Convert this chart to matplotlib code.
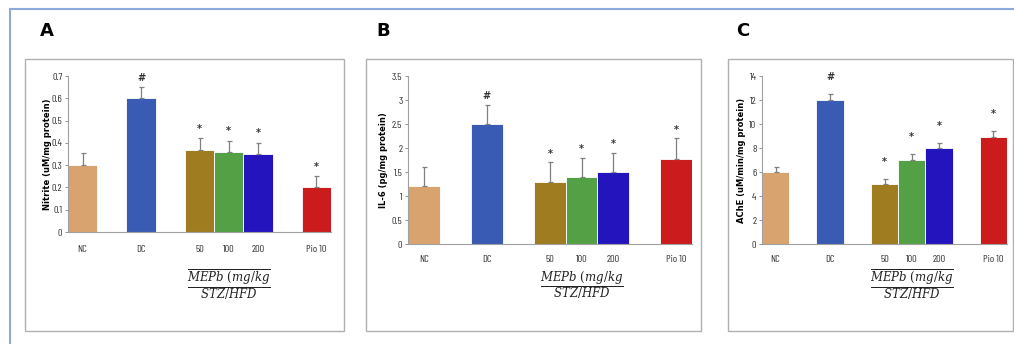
import numpy as np
import matplotlib
matplotlib.use('Agg')
import matplotlib.pyplot as plt
from matplotlib.patches import Rectangle
from matplotlib.lines import Line2D
from matplotlib.transforms import blended_transform_factory

# data
groups = ['NC', 'DC', '50', '100', '200', 'Pio 10']
bar_colors = ['#D9A36F', '#3A5BB4', '#9E7C1F', '#53A045', '#2314BE', '#CB1B1D']

nitrite = [0.30, 0.60, 0.37, 0.36, 0.35, 0.20]
nitrite_err = [0.055, 0.05, 0.05, 0.05, 0.05, 0.05]
nitrite_sig = ['', '#', '*', '*', '*', '*']

il6 = [1.2, 2.5, 1.3, 1.4, 1.5, 1.78]
il6_err = [0.4, 0.4, 0.4, 0.4, 0.4, 0.42]
il6_sig = ['', '#', '*', '*', '*', '*']

ache = [6.0, 12.0, 5.0, 7.0, 8.0, 8.95]
ache_err = [0.45, 0.5, 0.45, 0.5, 0.45, 0.5]
ache_sig = ['', '#', '*', '*', '*', '*']

# layout
slot = [0, 2, 4, 5, 6, 8]
W, H = 1014, 344
tick_font = ['Barlow Condensed', 'Archivo Narrow', 'DejaVu Sans']

plt.rcParams['mathtext.fontset'] = 'dejavuserif'

fig = plt.figure(figsize=(W / 100, H / 100), dpi=100)


def px_box(x0, y0, x1, y1):
    # pixel box (top-left origin) -> figure fraction rect
    return [x0 / W, (H - y1) / H, (x1 - x0) / W, (y1 - y0) / H]


# outer blue frame
fig.add_artist(Line2D([10 / W, 1.0], [(H - 9) / H, (H - 9) / H], color='#8EA9DB', lw=1.5))
fig.add_artist(Line2D([10 / W, 10 / W], [0, (H - 9) / H], color='#8EA9DB', lw=1.5))

# gray panel boxes
for (x0, x1) in [(25, 344), (366, 701), (728, 1013)]:
    r = px_box(x0, 59, x1, 331)
    fig.add_artist(Rectangle((r[0], r[1]), r[2], r[3], transform=fig.transFigure,
                             fill=False, ec='#B0B0B0', lw=1.0))

panels = [
    ('A', px_box(68, 76, 331, 232), nitrite, nitrite_err, nitrite_sig, 0.7, 0.1,
     'Nitrite (uM/mg protein)', 48, 47, True, 0.02),
    ('B', px_box(408, 76, 692, 244), il6, il6_err, il6_sig, 3.5, 0.5,
     'IL-6 (pg/mg protein)', 384, 383, False, 0.08),
    ('C', px_box(762, 76, 1007, 244), ache, ache_err, ache_sig, 14, 2,
     'AChE (uM/min/mg protein)', 742, 743, True, 1.0),
]

for (letter, rect, vals, errs, sigs, ymax, ystep, ylabel, ylab_x, let_x, overline, gap) in panels:
    ax = fig.add_axes(rect)
    ax.bar(slot, vals, width=1.0, color=bar_colors, edgecolor='white', linewidth=0.6, zorder=2)
    ax.errorbar(slot, vals, yerr=[np.zeros(len(vals)), errs], fmt='none',
                ecolor='#808080', elinewidth=0.9, capsize=1.8, capthick=0.9, zorder=3)
    for x, v, e, s in zip(slot, vals, errs, sigs):
        if s:
            ax.text(x, v + e + gap, s, ha='center', va='bottom', fontsize=7,
                    fontweight='bold', color='#333333', clip_on=False)
    ax.set_xlim(-0.5, 8.5)
    ax.set_ylim(0, ymax)
    yt = np.arange(0, ymax + ystep / 2, ystep)
    ax.set_yticks(yt)
    ax.set_yticklabels(['{:g}'.format(round(t, 2)) for t in yt], family=tick_font, fontsize=7.5, color='#333333')
    ax.set_xticks([])
    for sp in ['top', 'right']:
        ax.spines[sp].set_visible(False)
    for sp in ['left', 'bottom']:
        ax.spines[sp].set_color('#A0A0A0')
        ax.spines[sp].set_linewidth(0.8)
    ax.tick_params(axis='y', length=2.5, width=0.6, color='#808080', pad=1.5)
    ax.patch.set_visible(False)

    # category labels below the axis
    trans = blended_transform_factory(ax.transData, fig.transFigure)
    lab_y = 249 if letter == 'A' else 259
    for x, g in zip(slot, groups):
        ax.text(x, (H - lab_y) / H, g, transform=trans, ha='center', va='center',
                family=tick_font, fontsize=7.5, color='#333333')

    # MEPb dose label
    if overline:
        frac = r'$\dfrac{\overline{MEPb\ (mg/kg}}{STZ/HFD}$'
    else:
        frac = r'$\dfrac{MEPb\ (mg/kg}{STZ/HFD}$'
    ax.text(5, (H - 285) / H, frac, transform=trans, ha='center', va='center',
            fontsize=8.5, color='#222222')

    # y label and panel letter
    fig.text(ylab_x / W, rect[1] + rect[3] / 2, ylabel, rotation=90,
             ha='center', va='center', fontsize=6, fontweight='bold')
    fig.text(let_x / W, (H - 31) / H, letter, ha='center', va='center', fontsize=13, fontweight='bold')

fig.savefig('out.png', dpi=100)
